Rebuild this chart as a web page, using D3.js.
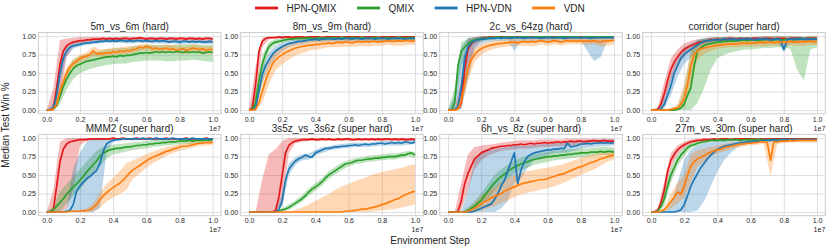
<!DOCTYPE html>
<html lang="en">
<head>
<meta charset="utf-8">
<title>HPN win rates</title>
<script src="https://cdn.jsdelivr.net/npm/d3@7"></script>
<style>
  body { margin: 0; background: #fff; }
  text { font-family: "Liberation Sans", Arial, sans-serif; }
</style>
</head>
<body>
<svg id="chart" width="830" height="248"></svg>
<script>
// methods, colours and panel titles
const methods = ["HPN-QMIX", "QMIX", "HPN-VDN", "VDN"];
const colors = ["#e31a1c", "#2ca02c", "#1f77b4", "#ff7f0e"];
const maps = ["5m_vs_6m (hard)", "8m_vs_9m (hard)", "2c_vs_64zg (hard)", "corridor (super hard)",
              "MMM2 (super hard)", "3s5z_vs_3s6z (super hard)", "6h_vs_8z (super hard)", "27m_vs_30m (super hard)"];

// environment steps (x 1e7) for the median curves and for the shaded bands
const meanSteps = [0,0.02,0.04,0.06,0.08,0.1,0.12,0.14,0.16,0.18,
  0.2,0.22,0.24,0.26,0.28,0.3,0.32,0.34,0.36,0.38,
  0.4,0.42,0.44,0.46,0.48,0.5,0.52,0.54,0.56,0.58,
  0.6,0.62,0.64,0.66,0.68,0.7,0.72,0.74,0.76,0.78,
  0.8,0.82,0.84,0.86,0.88,0.9,0.92,0.94,0.96,0.98,1.0];
const bandSteps = [0,0.04,0.08,0.12,0.16,0.2,0.24,0.28,0.32,0.36,
  0.4,0.44,0.48,0.52,0.56,0.6,0.64,0.68,0.72,0.76,
  0.8,0.84,0.88,0.92,0.96,1.0];
const xTicks = [0, 0.2, 0.4, 0.6, 0.8, 1.0];
const yTicks = [0, 0.25, 0.5, 0.75, 1.0];

// win rates in percent, order: HPN-QMIX, QMIX, HPN-VDN, VDN
const mean_5m6m = [
  [0,0,3,30,62,80,87,90,92,93, 94,94,95,95,96,96,96,97,96,97, 96,97,96,97,97,96,97,97,98,97, 96,97,97,96,97,97,96,97,97,96, 97,97,96,97,97,96,97,96,97,97, 96],
  [0,0,1,6,18,32,42,50,56,60, 62,64,66,67,68,69,70,71,72,72, 73,72,74,73,74,74,75,76,77,77, 78,77,78,79,78,79,78,79,78,79, 79,78,79,78,79,78,79,77,78,79, 78],
  [0,0,2,20,50,70,80,85,87,88, 89,90,91,91,92,92,93,93,94,93, 94,93,94,94,93,94,93,94,94,93, 94,93,93,94,93,94,93,92,93,93, 92,93,93,92,93,92,93,92,92,93, 92],
  [0,0,1,8,25,38,50,58,63,66, 70,72,73,75,80,76,77,76,78,77, 79,78,80,79,81,80,82,83,85,84, 86,85,83,84,82,83,84,82,83,81, 82,83,81,82,84,83,82,83,81,82, 82]];
const lo_5m6m = [
  [0,0,20,72,86,90,92,93,93,93, 94,94,94,94,94,94,94,94,94,94, 94,94,94,94,94,93],
  [0,0,8,28,42,50,54,57,59,61, 62,63,63,65,66,67,67,67,66,66, 67,67,68,67,66,65],
  [0,0,35,73,83,86,88,89,90,91, 91,91,90,90,91,91,90,90,90,90, 89,90,90,90,89,89],
  [0,0,15,42,56,64,68,73,72,73, 74,75,76,77,80,81,78,77,79,78, 77,76,79,77,76,77]];
const hi_5m6m = [
  [0,30,95,97,98,99,99,99,99,99, 99,99,100,99,99,99,99,99,99,99, 99,99,99,99,99,99],
  [0,4,30,55,68,73,76,78,80,82, 83,84,84,86,87,88,88,88,88,88, 89,89,89,89,88,88],
  [0,10,65,86,91,93,94,95,96,97, 97,97,96,96,97,97,96,96,96,96, 95,96,96,96,95,95],
  [0,3,35,58,69,75,78,86,82,83, 84,85,86,87,89,90,88,87,89,88, 87,86,89,87,86,87]];

const mean_8m9m = [
  [0,2,35,80,93,97,98,98,98,99, 98,99,99,98,99,99,99,98,99,99, 99,99,98,99,99,99,99,99,98,99, 99,99,99,99,98,99,99,99,99,98, 99,99,99,99,99,98,99,99,99,99, 99],
  [0,0,10,40,62,76,86,90,92,93, 94,95,96,96,97,97,97,97,98,97, 97,98,97,98,97,98,98,97,98,98, 97,98,98,97,98,98,97,98,98,98, 97,98,98,97,98,98,98,97,98,98, 98],
  [0,0,3,25,48,60,68,75,80,83, 86,88,90,91,92,93,93,94,95,95, 96,95,96,96,97,96,96,97,96,97, 97,96,97,97,96,97,97,97,96,97, 97,97,96,97,97,97,97,96,97,97, 97],
  [0,0,1,10,25,40,52,62,68,72, 75,78,80,82,84,85,86,87,88,88, 89,89,90,90,91,90,91,92,91,92, 92,91,92,93,92,93,92,93,93,92, 93,93,94,93,93,94,93,94,94,93, 94]];
const lo_8m9m = [
  [0,10,85,96,97,97,97,97,97,97, 97,97,97,97,97,97,97,97,97,97, 97,97,97,97,97,97],
  [0,2,50,80,88,91,93,94,94,95, 94,94,94,95,95,94,95,95,94,95, 94,95,95,95,95,95],
  [0,0,38,58,72,80,85,88,89,91, 92,92,93,92,92,93,93,92,93,92, 93,92,93,92,93,93],
  [0,0,10,35,54,62,68,74,77,80, 82,83,85,85,85,86,86,86,86,87, 87,88,87,87,88,88]];
const hi_8m9m = [
  [0,60,98,99,100,100,100,100,100,100, 100,100,100,100,100,100,100,100,100,100, 100,100,100,100,100,100],
  [0,25,74,92,96,97,99,99,99,100, 99,99,99,100,100,99,100,100,99,100, 99,100,100,100,100,100],
  [0,10,58,78,87,91,94,96,97,98, 99,99,99,99,99,99,99,99,99,99, 99,99,99,99,99,99],
  [0,4,42,68,80,86,90,92,93,94, 95,96,96,96,96,97,97,97,97,98, 98,99,98,98,99,99]];

const mean_2c64zg = [
  [0,0,0,2,10,55,82,90,94,96, 97,98,98,99,98,99,99,99,98,99, 99,99,99,98,99,99,99,99,99,98, 99,99,99,99,99,99,98,99,99,99, 99,99,99,98,99,99,99,99,99,99, 99],
  [0,0,10,60,80,85,90,93,95,96, 97,97,98,98,98,99,98,99,98,99, 99,98,99,99,99,98,99,99,99,99, 99,99,98,99,99,99,99,99,99,99, 98,99,99,99,99,99,99,99,99,99, 99],
  [0,0,1,5,30,70,85,91,94,95, 96,96,97,97,97,98,97,98,98,97, 98,98,98,97,98,98,98,98,97,98, 98,98,98,98,98,97,98,98,98,98, 98,98,98,97,98,98,98,98,98,98, 98],
  [0,0,0,2,12,35,55,68,75,80, 83,85,87,88,89,90,90,91,91,92, 92,91,92,93,92,93,92,93,94,93, 92,93,94,93,92,93,94,93,94,93, 94,93,94,93,94,93,92,94,93,94, 94]];
const lo_2c64zg = [
  [0,0,2,55,85,94,96,96,97,96, 97,97,97,97,97,97,97,97,96,97, 97,97,97,97,97,97],
  [0,2,60,82,90,93,95,96,96,96, 97,97,97,97,97,97,96,97,97,97, 96,97,97,97,97,97],
  [0,0,2,40,82,90,92,93,94,94, 80,94,94,94,94,94,94,94,94,94, 94,80,66,72,94,94],
  [0,0,3,40,65,75,80,83,85,86, 87,87,87,86,89,87,89,87,89,89, 89,88,89,86,87,89]];
const hi_2c64zg = [
  [0,2,40,97,99,100,100,100,100,100, 100,100,100,100,100,100,100,100,100,100, 100,100,100,100,100,100],
  [0,30,92,96,98,99,100,100,100,100, 100,100,100,100,100,100,100,100,100,100, 100,100,100,100,100,100],
  [0,20,85,98,99,100,100,100,100,100, 100,100,100,100,100,100,100,100,100,100, 100,100,100,100,100,100],
  [0,1,25,68,84,89,92,94,95,96, 96,96,96,97,98,96,98,96,98,98, 98,98,98,97,98,98]];

const mean_corridor = [
  [0,0,1,8,22,40,55,65,72,78, 82,85,87,89,91,92,93,94,95,95, 96,95,96,96,97,96,96,97,96,97, 96,97,97,96,97,97,97,96,97,97, 97,96,97,97,97,97,96,97,97,97, 97],
  [0,0,0,0,0,0,0,0,1,3, 8,20,30,60,80,84,87,89,90,91, 92,92,93,93,94,93,94,94,95,94, 95,95,94,95,95,96,95,95,96,95, 95,96,96,95,96,96,96,95,96,96, 96],
  [0,0,0,2,8,20,33,50,60,70, 75,79,82,85,88,91,93,94,94,95, 95,95,96,95,96,96,95,96,96,96, 96,95,96,96,96,96,95,96,96,96, 82,96,96,96,96,97,96,96,96,96, 96],
  [0,0,0,0,0,0,1,2,3,8, 15,35,60,75,80,83,84,85,86,87, 88,88,89,89,90,89,90,90,91,90, 91,91,91,92,91,92,92,91,92,92, 92,92,93,92,92,93,92,93,93,92, 93]];
const lo_corridor = [
  [0,0,10,40,60,73,80,86,89,92, 93,93,94,93,93,93,94,94,94,94, 94,94,94,93,94,94],
  [0,0,0,0,0,0,0,10,30,55, 70,75,78,80,82,82,83,84,84,85, 85,83,55,40,82,85],
  [0,0,2,20,45,62,72,80,86,90, 91,92,92,92,93,93,93,93,92,93, 78,93,93,93,93,93],
  [0,0,0,0,0,5,35,68,76,80, 83,84,85,85,86,86,86,86,87,87, 87,88,87,87,88,88]];
const hi_corridor = [
  [0,4,38,70,82,90,94,96,97,99, 99,99,100,99,99,99,100,100,100,100, 100,100,100,99,100,100],
  [0,0,0,0,3,30,80,95,97,98, 99,99,99,99,99,99,99,100,100,100, 100,100,100,100,100,100],
  [0,1,18,48,74,85,90,95,97,98, 98,99,99,98,99,99,99,99,98,99, 86,99,99,99,99,99],
  [0,0,0,3,8,35,80,90,92,93, 94,95,95,95,96,96,96,96,97,97, 97,98,97,97,98,98]];

const mean_MMM2 = [
  [0,0,3,35,68,85,92,95,96,97, 98,98,98,99,99,99,99,99,99,99, 100,99,99,100,99,99,99,100,99,99, 99,100,99,99,99,99,100,99,99,99, 99,99,100,99,99,99,99,99,100,99, 99],
  [0,1,3,8,13,18,24,29,34,38, 43,48,54,59,64,69,75,80,82,84, 85,86,86,87,88,88,89,90,90,91, 91,92,92,93,93,94,94,95,95,95, 96,96,96,97,96,97,97,97,98,97, 98],
  [0,0,0,0,0,0,1,2,10,28, 35,40,45,48,52,56,65,82,92,95, 97,98,98,99,99,99,99,99,99,100, 99,99,99,100,99,99,99,99,100,99, 99,99,99,99,100,99,99,99,99,99, 99],
  [0,0,0,0,0,0,0,1,1,1, 1,2,2,3,6,10,16,22,26,30, 33,36,39,43,48,53,57,60,63,66, 69,72,74,76,78,80,82,83,85,86, 88,89,89,90,91,92,93,93,94,94, 94]];
const lo_MMM2 = [
  [0,0,0,5,30,90,96,97,97,97, 98,98,98,98,98,98,98,98,98,98, 98,98,98,98,98,98],
  [0,0,0,12,22,30,42,52,62,72, 78,80,82,84,85,86,88,89,90,91, 92,92,92,93,94,94],
  [0,0,0,0,0,0,0,0,5,80, 95,97,97,97,97,97,97,97,97,98, 97,97,98,97,97,97],
  [0,0,0,0,0,0,0,1,6,14, 20,24,30,45,52,60,66,71,76,80, 83,85,87,89,90,91]];
const hi_MMM2 = [
  [0,30,95,100,100,100,100,100,100,100, 100,100,100,100,100,100,100,100,100,100, 100,100,100,100,100,100],
  [0,8,28,38,48,58,68,78,86,90, 91,92,93,94,95,96,97,98,98,99, 99,99,99,100,100,100],
  [0,0,0,5,60,80,95,99,100,100, 100,100,100,100,100,100,100,100,100,100, 100,100,100,100,100,100],
  [0,0,0,1,2,2,4,12,26,38, 46,55,66,70,74,78,82,85,88,90, 92,93,95,96,97,97]];

const mean_3s5z = [
  [0,0,0,0,0,0,0,0,2,20, 50,80,90,94,96,97,98,98,98,99, 98,98,99,98,99,98,98,99,98,99, 99,98,98,99,98,99,98,99,98,99, 98,99,99,98,99,98,99,98,98,99, 98],
  [0,0,0,0,0,0,0,0,0,1, 3,4,6,9,12,15,18,22,27,31, 34,37,41,46,50,53,56,59,62,65, 66,67,69,70,70,71,72,72,73,73, 74,74,75,75,75,76,77,77,79,80, 77],
  [0,0,0,0,0,0,0,0,0,3, 15,43,58,64,69,72,74,77,75,74, 80,82,84,86,86,87,88,88,89,89, 90,90,91,90,91,92,91,92,92,93, 93,92,93,94,93,94,93,95,94,93, 95],
  [0,0,0,0,0,0,0,0,0,0, 0,0,0,0,0,0,0,0,0,0, 0,0,0,0,0,0,0,0,0,1, 1,2,2,3,4,4,5,6,7,8, 10,11,13,15,17,18,21,23,25,27, 28]];
const lo_3s5z = [
  [0,0,0,0,0,10,80,93,95,96, 96,96,96,96,96,96,96,96,96,96, 96,96,96,96,96,96],
  [0,0,0,0,0,1,3,8,14,22, 29,36,45,51,57,62,65,66,68,69, 70,71,71,73,75,73],
  [0,0,0,0,0,8,50,64,70,71, 76,80,83,85,86,87,88,88,88,89, 90,90,90,90,91,92],
  [0,0,0,0,0,0,0,0,0,0, 0,0,0,0,0,0,0,0,0,1, 2,3,4,6,8,10]];
const hi_3s5z = [
  [0,0,45,78,85,96,100,100,100,100, 100,100,100,100,100,100,100,100,100,100, 100,100,100,100,100,100],
  [0,0,0,0,1,5,10,16,23,32, 39,46,55,61,67,70,73,74,76,77, 78,79,79,81,83,81],
  [0,0,0,0,1,25,66,74,78,79, 84,88,89,91,92,93,94,94,94,95, 96,96,96,96,97,98],
  [0,0,0,0,0,0,0,3,6,10, 15,20,24,30,35,38,42,45,48,52, 54,56,58,60,63,65]];

const mean_6h8z = [
  [0,0,0,1,15,38,52,62,72,76, 80,82,84,86,87,88,89,89,90,90, 91,91,92,91,92,93,92,93,93,94, 93,94,94,95,94,95,95,96,95,96, 96,95,96,96,97,96,96,97,96,96, 96],
  [0,0,0,0,0,0,2,5,8,12, 16,22,28,34,39,44,48,51,55,58, 61,63,65,67,68,70,71,72,73,74, 75,75,76,76,77,77,78,78,79,79, 80,80,80,81,81,81,82,81,82,82, 81],
  [0,0,0,0,0,0,0,0,1,3, 5,7,9,11,17,25,35,43,55,68, 80,38,57,68,75,78,80,81,82,83, 84,84,85,85,86,86,93,88,89,90, 92,92,93,92,93,93,94,93,94,93, 94],
  [0,0,0,0,0,0,1,3,5,8, 11,14,16,19,21,23,25,28,30,32, 34,36,38,39,40,41,42,43,44,44, 45,47,48,50,51,52,54,56,58,60, 61,63,65,67,68,70,72,73,75,76, 77]];
const lo_6h8z = [
  [0,0,2,30,58,70,76,80,83,84, 85,86,86,87,88,88,89,89,90,90, 91,91,92,92,92,92],
  [0,0,0,0,2,8,18,28,38,45, 52,57,60,64,66,68,70,71,72,73, 74,75,76,77,77,76],
  [0,0,0,0,0,0,0,0,5,15, 40,45,60,70,74,77,79,80,81,83, 86,87,88,89,89,90],
  [0,0,0,0,0,2,5,8,12,16, 20,24,26,28,30,32,35,38,42,46, 50,54,58,63,68,71]];
const hi_6h8z = [
  [0,0,40,78,88,90,91,92,94,95, 96,97,97,97,98,98,98,98,99,99, 99,99,99,99,99,99],
  [0,0,0,6,15,25,38,50,58,64, 70,73,76,78,80,82,83,84,85,85, 86,86,87,88,88,87],
  [0,0,0,30,70,82,85,85,87,88, 92,90,90,91,92,92,93,94,95,95, 96,97,97,98,98,98],
  [0,0,0,4,12,22,28,34,40,46, 50,53,55,57,59,60,62,64,67,70, 73,76,78,80,82,83]];

const mean_27m30m = [
  [0,0,2,12,30,55,70,78,84,88, 91,93,95,96,97,97,98,98,98,99, 98,99,99,99,98,99,99,99,99,99, 99,99,98,99,99,99,99,99,99,99, 99,99,99,99,99,99,99,99,99,99, 99],
  [0,0,1,7,18,35,50,60,70,77, 82,87,90,91,93,94,95,96,97,97, 97,98,97,98,98,98,98,97,98,98, 98,98,98,98,98,98,98,98,98,98, 98,98,98,98,98,98,98,98,98,98, 98],
  [0,0,0,0,0,0,0,0,1,3, 10,22,35,44,52,60,66,72,77,81, 85,87,89,90,91,92,93,94,94,95, 95,96,96,96,97,97,97,98,97,98, 98,98,98,98,98,98,98,98,98,98, 98],
  [0,0,0,1,3,8,14,20,27,24, 35,50,62,68,72,74,76,79,81,83, 84,85,87,88,89,90,91,92,92,93, 93,94,94,95,95,94,70,95,95,96, 96,96,97,96,97,97,97,97,97,97, 97]];
const lo_27m30m = [
  [0,0,18,60,78,87,92,95,96,96, 96,97,96,97,97,97,96,97,97,97, 97,97,97,97,97,97],
  [0,0,8,40,62,76,86,90,93,95, 95,95,96,96,96,96,96,96,96,96, 96,96,96,96,96,96],
  [0,0,0,0,0,0,0,2,15,35, 55,70,80,88,91,93,94,95,95,95, 96,96,96,96,96,96],
  [0,0,0,5,12,20,40,62,68,75, 79,82,85,87,89,90,91,92,48,92, 93,94,94,94,94,94]];
const hi_27m30m = [
  [0,5,42,80,90,95,98,99,100,100, 100,100,100,100,100,100,100,100,100,100, 100,100,100,100,100,100],
  [0,3,28,60,78,88,93,96,97,98, 99,99,99,99,99,99,99,99,99,99, 99,99,99,99,99,99],
  [0,0,0,10,40,70,85,90,93,95, 96,97,98,98,98,99,99,99,99,99, 99,99,99,99,99,99],
  [0,0,6,25,40,50,78,84,86,88, 90,92,94,95,96,97,98,98,97,99, 99,99,99,99,99,99]];

const panels = [
  { title: maps[0], mean: mean_5m6m, lo: lo_5m6m, hi: hi_5m6m },
  { title: maps[1], mean: mean_8m9m, lo: lo_8m9m, hi: hi_8m9m },
  { title: maps[2], mean: mean_2c64zg, lo: lo_2c64zg, hi: hi_2c64zg },
  { title: maps[3], mean: mean_corridor, lo: lo_corridor, hi: hi_corridor },
  { title: maps[4], mean: mean_MMM2, lo: lo_MMM2, hi: hi_MMM2 },
  { title: maps[5], mean: mean_3s5z, lo: lo_3s5z, hi: hi_3s5z },
  { title: maps[6], mean: mean_6h8z, lo: lo_6h8z, hi: hi_6h8z },
  { title: maps[7], mean: mean_27m30m, lo: lo_27m30m, hi: hi_27m30m }
];

// layout of the 2 x 4 grid
const colLeft = [38.4, 240.7, 439.7, 642.7];
const rowTop = [32.5, 134.4];
const axW = 182.6, axH = 81.3;
const textColor = "#262626";

const svg = d3.select("#chart");

panels.forEach(function (p, i) {
  const left = colLeft[i % 4], top = rowTop[Math.floor(i / 4)];
  const x = d3.scaleLinear().domain([-0.05, 1.05]).range([0, axW]);
  const y = d3.scaleLinear().domain([-0.05, 1.05]).range([axH, 0]);

  const g = svg.append("g").attr("transform", "translate(" + left + "," + top + ")");

  // grid lines
  g.append("g").attr("transform", "translate(0," + axH + ")")
    .call(d3.axisBottom(x).tickValues(xTicks).tickSize(-axH).tickFormat(""))
    .call(a => a.select(".domain").remove())
    .call(a => a.selectAll("line").attr("stroke", "#dedede").attr("stroke-width", 1));
  g.append("g")
    .call(d3.axisLeft(y).tickValues(yTicks).tickSize(-axW).tickFormat(""))
    .call(a => a.select(".domain").remove())
    .call(a => a.selectAll("line").attr("stroke", "#dedede").attr("stroke-width", 1));

  // tick labels
  g.append("g").attr("transform", "translate(0," + axH + ")")
    .call(d3.axisBottom(x).tickValues(xTicks).tickSize(0).tickPadding(2.8).tickFormat(d3.format(".1f")))
    .call(a => a.select(".domain").remove())
    .call(a => a.selectAll("text").attr("font-size", 7).attr("fill", textColor)
      .style("font-family", "'Liberation Sans', Arial, sans-serif"));
  g.append("g")
    .call(d3.axisLeft(y).tickValues(yTicks).tickSize(0).tickPadding(2.5).tickFormat(d3.format(".2f")))
    .call(a => a.select(".domain").remove())
    .call(a => a.selectAll("text").attr("font-size", 7).attr("fill", textColor)
      .style("font-family", "'Liberation Sans', Arial, sans-serif"));

  // offset text
  g.append("text").attr("x", axW).attr("y", axH + 16.8)
    .attr("text-anchor", "end").attr("font-size", 7).attr("fill", textColor).text("1e7");

  // shaded bands
  methods.forEach(function (m, k) {
    const area = d3.area()
      .x((d, j) => x(bandSteps[j]))
      .y0((d, j) => y(p.lo[k][j] / 100))
      .y1((d, j) => y(p.hi[k][j] / 100));
    g.append("path").datum(p.lo[k])
      .attr("d", area)
      .attr("fill", colors[k]).attr("fill-opacity", 0.3).attr("stroke", "none");
  });

  // median lines
  methods.forEach(function (m, k) {
    const line = d3.line()
      .x((d, j) => x(meanSteps[j]))
      .y(d => y(d / 100));
    g.append("path").datum(p.mean[k])
      .attr("d", line)
      .attr("fill", "none").attr("stroke", colors[k])
      .attr("stroke-width", 1.7).attr("stroke-linejoin", "round");
  });

  // frame
  g.append("rect").attr("width", axW).attr("height", axH)
    .attr("fill", "none").attr("stroke", "#cccccc").attr("stroke-width", 1);

  // title
  g.append("text").attr("x", axW / 2).attr("y", -2.6)
    .attr("text-anchor", "middle").attr("font-size", 10).attr("fill", textColor)
    .text(p.title);
});

// shared axis labels
svg.append("text")
  .attr("transform", "translate(9,125) rotate(-90)")
  .attr("text-anchor", "middle").attr("font-size", 10).attr("fill", textColor)
  .text("Median Test Win %");
svg.append("text")
  .attr("x", 430).attr("y", 244.2)
  .attr("text-anchor", "middle").attr("font-size", 10).attr("fill", textColor)
  .text("Environment Step");

// legend across the top
const legend = svg.append("g");
let lx = 255;
methods.forEach(function (m, k) {
  legend.append("line")
    .attr("x1", lx).attr("x2", lx + 23).attr("y1", 8).attr("y2", 8)
    .attr("stroke", colors[k]).attr("stroke-width", 2.8);
  const t = legend.append("text")
    .attr("x", lx + 31.5).attr("y", 11.6)
    .attr("font-size", 10).attr("fill", textColor).text(m);
  lx = lx + 31.5 + t.node().getComputedTextLength() + 20.5;
});
</script>
</body>
</html>
